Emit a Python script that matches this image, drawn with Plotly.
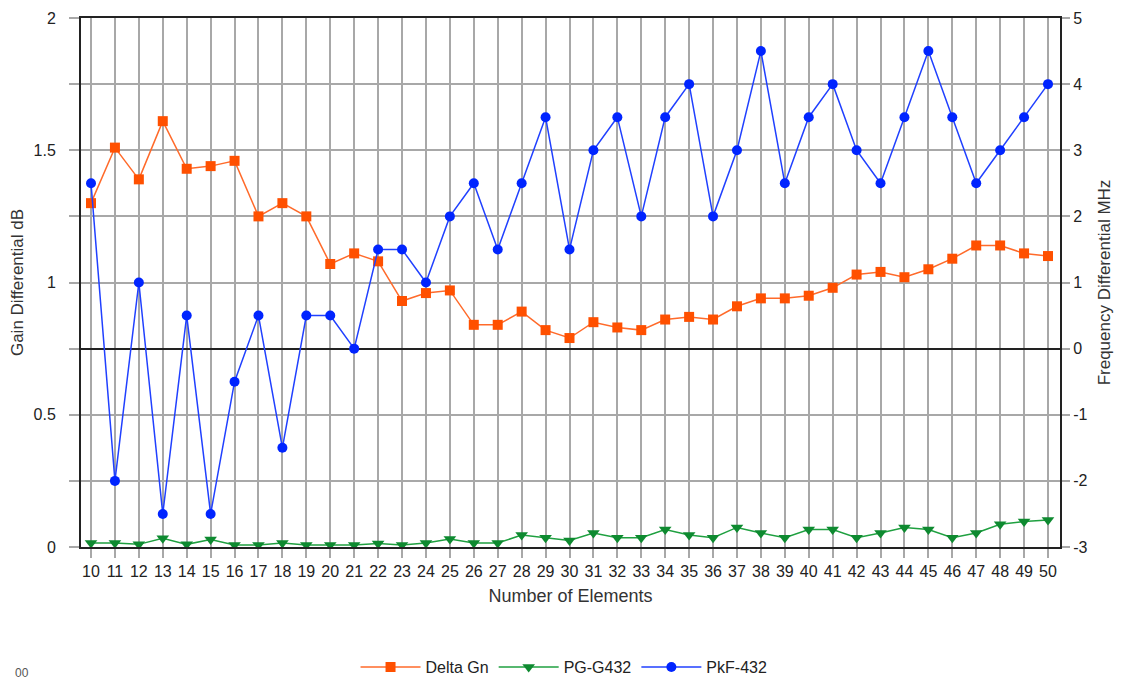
import plotly.graph_objects as go

elements = list(range(10, 51))

delta_gn = [1.30, 1.51, 1.39, 1.61, 1.43, 1.44, 1.46, 1.25, 1.30, 1.25,
            1.07, 1.11, 1.08, 0.93, 0.96, 0.97, 0.84, 0.84, 0.89, 0.82,
            0.79, 0.85, 0.83, 0.82, 0.86, 0.87, 0.86, 0.91, 0.94, 0.94,
            0.95, 0.98, 1.03, 1.04, 1.02, 1.05, 1.09, 1.14, 1.14, 1.11,
            1.10]

pg_g432 = [0.015, 0.015, 0.010, 0.033, 0.010, 0.028, 0.008, 0.008, 0.015, 0.008,
           0.008, 0.008, 0.013, 0.008, 0.015, 0.030, 0.015, 0.015, 0.045, 0.035,
           0.025, 0.053, 0.035, 0.035, 0.066, 0.045, 0.035, 0.074, 0.053, 0.035,
           0.066, 0.066, 0.035, 0.053, 0.074, 0.066, 0.035, 0.053, 0.086, 0.096,
           0.102]

pkf_432 = [2.5, -2.0, 1.0, -2.5, 0.5, -2.5, -0.5, 0.5, -1.5, 0.5,
           0.5, 0.0, 1.5, 1.5, 1.0, 2.0, 2.5, 1.5, 2.5, 3.5,
           1.5, 3.0, 3.5, 2.0, 3.5, 4.0, 2.0, 3.0, 4.5, 2.5,
           3.5, 4.0, 3.0, 2.5, 3.5, 4.5, 3.5, 2.5, 3.0, 3.5,
           4.0]

left_ticks = [0, 0.25, 0.5, 0.75, 1, 1.25, 1.5, 1.75, 2]
left_labels = ["0", "", "0.5", "", "1", "", "1.5", "", "2"]
right_ticks = [-3, -2, -1, 0, 1, 2, 3, 4, 5]
right_labels = ["-3", "-2", "-1", "0", "1", "2", "3", "4", "5"]

FONT = "Arial, Liberation Sans, sans-serif"
GRID = "#a8a8a8"

fig = go.Figure()
fig.add_trace(go.Scatter(
    x=elements, y=delta_gn, name="Delta Gn", mode="lines+markers",
    line=dict(color="#ff6a2a", width=1.5),
    marker=dict(symbol="square", size=10, color="#ff5000"),
))
fig.add_trace(go.Scatter(
    x=elements, y=pg_g432, name="PG-G432", mode="lines+markers",
    line=dict(color="#1fa040", width=1.5),
    marker=dict(symbol="triangle-down", size=11, color="#0e8a30"),
))
fig.add_trace(go.Scatter(
    x=elements, y=pkf_432, name="PkF-432", mode="lines+markers", yaxis="y2",
    line=dict(color="#2040ff", width=1.5),
    marker=dict(symbol="circle", size=10, color="#0024ff"),
))

fig.add_annotation(
    text="00", xref="paper", yref="paper", x=-0.0695, y=-0.2552,
    xanchor="left", yanchor="bottom", showarrow=False,
    font=dict(family=FONT, size=12, color="#555"),
)

fig.update_layout(
    width=1132, height=682,
    margin=dict(l=73, r=80, t=10, b=143, autoexpand=False),
    paper_bgcolor="white", plot_bgcolor="white",
    font=dict(family=FONT, size=16, color="#222"),
    showlegend=True,
    legend=dict(orientation="h", xref="paper", yref="paper",
                x=0.4934, y=-0.227, xanchor="center", yanchor="middle",
                itemwidth=60, font=dict(size=16, color="#222"),
                bgcolor="rgba(0,0,0,0)"),
    xaxis=dict(
        range=[9.582, 50.502], tickmode="array", tickvals=elements,
        ticktext=[str(e) for e in elements],
        showgrid=True, gridcolor=GRID, gridwidth=2,
        showline=True, linecolor="#222", linewidth=2, mirror=True,
        ticks="outside", ticklen=9, tickcolor=GRID, tickwidth=2,
        tickfont=dict(size=16, color="#222"), tickangle=0,
        zeroline=False, automargin=False,
        title=dict(text="Number of Elements", font=dict(size=18, color="#333"), standoff=10),
    ),
    yaxis=dict(
        range=[0, 2], tickmode="array", tickvals=left_ticks, ticktext=left_labels,
        showgrid=True, gridcolor=GRID, gridwidth=2,
        showline=True, linecolor="#222", linewidth=2,
        ticks="outside", ticklen=10, tickcolor=GRID, tickwidth=2,
        ticklabelstandoff=10, automargin=False,
        tickfont=dict(size=16, color="#222"), zeroline=False,
        title=dict(text="Gain Differential dB", font=dict(size=17, color="#333"), standoff=10),
    ),
    yaxis2=dict(
        range=[-3, 5], tickmode="array", tickvals=right_ticks, ticktext=right_labels,
        overlaying="y", side="right", showgrid=False,
        showline=True, linecolor="#222", linewidth=2,
        ticks="outside", ticklen=8, tickcolor=GRID, tickwidth=2,
        tickfont=dict(size=16, color="#222"), automargin=False,
        zeroline=True, zerolinecolor="#222", zerolinewidth=2,
        title=dict(text="Frequency Differential MHz", font=dict(size=17, color="#333"), standoff=12),
    ),
)

fig.write_html("out.html")
